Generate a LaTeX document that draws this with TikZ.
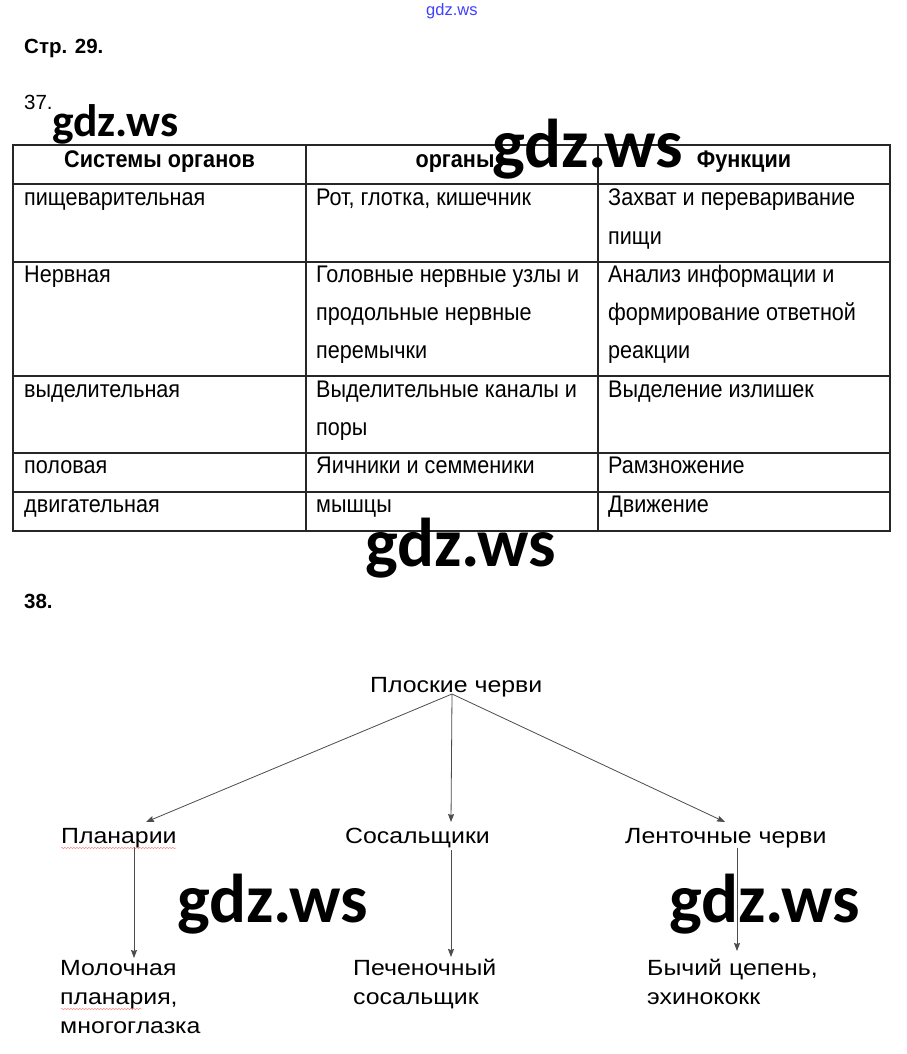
\documentclass[tikz,border=0pt]{standalone}
\usepackage{fontspec}
\setmainfont{Liberation Sans}
\newfontfamily\tabfont[FakeStretch=0.9]{Liberation Sans}
\newfontfamily\diagfont[FakeStretch=1.13]{Liberation Sans}
\newfontfamily\wmfont{Carlito}
\usetikzlibrary{arrows.meta,decorations.pathmorphing}
\begin{document}
\begin{tikzpicture}[x=1pt,y=-1pt,
  tab/.style={inner sep=0pt, anchor=base west, font=\tabfont\fontsize{24}{28}\selectfont},
  tabh/.style={inner sep=0pt, anchor=base, font=\tabfont\bfseries\fontsize{24}{28}\selectfont},
  dg/.style={inner sep=0pt, anchor=base west, font=\diagfont\fontsize{22}{29}\selectfont},
  wm/.style={inner sep=0pt, anchor=base west, font=\wmfont\bfseries\fontsize{69}{72}\selectfont},
  wms/.style={inner sep=0pt, anchor=base west, font=\wmfont\bfseries\fontsize{45.5}{48}\selectfont},
  hd/.style={inner sep=0pt, anchor=base west, font=\fontsize{20.5}{24}\selectfont},
  gridline/.style={draw=black!85, line width=1.1pt},
  arr/.style={draw=black!70, line width=0.8pt, -{Stealth[length=8pt,width=6pt,inset=1pt]}},
  wavy/.style={draw=red!55, line width=0.4pt, decorate, decoration={snake, amplitude=0.7pt, segment length=3pt}}
  ]
\useasboundingbox (0,0) rectangle (906,1054);
\fill[white] (0,0) rectangle (906,1054);

% headings
\node[inner sep=0pt, anchor=base west, text=blue!75, font=\fontsize{16.5}{18}\selectfont] (site) at (426,16) {gdz.ws};
\node[hd, font=\bfseries\fontsize{20.5}{24}\selectfont] (page) at (24,54) {Стр. 29.};
\node[hd] (n37) at (24,110) {37.};
\node[hd, font=\bfseries\fontsize{20.5}{24}\selectfont] (n38) at (24,608) {38.};

% table grid
\draw[gridline] (13,145) rectangle (890,531);
\draw[gridline] (306,145) -- (306,531) (598,145) -- (598,531);
\draw[gridline] (13,184) -- (890,184) (13,262) -- (890,262) (13,376) -- (890,376)
  (13,453) -- (890,453) (13,492) -- (890,492);

% header
\node[tabh] (h1) at (159.5,167) {Системы органов};
\node[tabh] (h2) at (455,167) {органы};
\node[tabh] (h3) at (744,167) {Функции};

% row 1
\node[tab] (r1a) at (24,205) {пищеварительная};
\node[tab] (r1b) at (316,205) {Рот, глотка, кишечник};
\node[tab] (r1c) at (608,205) {Захват и переваривание};
\node[tab] (r1c2) at (608,244) {пищи};
% row 2
\node[tab] (r2a) at (24,282) {Нервная};
\node[tab] (r2b) at (316,282) {Головные нервные узлы и};
\node[tab] (r2b2) at (316,320) {продольные нервные};
\node[tab] (r2b3) at (316,358) {перемычки};
\node[tab] (r2c) at (608,282) {Анализ информации и};
\node[tab] (r2c2) at (608,320) {формирование ответной};
\node[tab] (r2c3) at (608,358) {реакции};
% row 3
\node[tab] (r3a) at (24,397) {выделительная};
\node[tab] (r3b) at (316,397) {Выделительные каналы и};
\node[tab] (r3b2) at (316,435) {поры};
\node[tab] (r3c) at (608,397) {Выделение излишек};
% row 4
\node[tab] (r4a) at (24,473) {половая};
\node[tab] (r4b) at (316,473) {Яичники и семменики};
\node[tab] (r4c) at (608,473) {Рамзножение};
% row 5
\node[tab] (r5a) at (24,512) {двигательная};
\node[tab] (r5b) at (316,512) {мышцы};
\node[tab] (r5c) at (608,512) {Движение};

% diagram
\node[dg] (root) at (370,692) {Плоские черви};
\node[dg] (pla) at (61,843) {Планарии};
\node[dg] (sos) at (345,843) {Сосальщики};
\node[dg] (len) at (625,843) {Ленточные черви};
\node[dg] (mol1) at (60,975) {Молочная};
\node[dg] (mol2) at (60,1004) {планария,};
\node[dg] (mol3) at (60,1033) {многоглазка};
\node[dg] (pec1) at (353,975) {Печеночный};
\node[dg] (pec2) at (353,1004) {сосальщик};
\node[dg] (byc1) at (647,975) {Бычий цепень,};
\node[dg] (byc2) at (647,1004) {эхинококк};

\coordinate (o) at (452,694);
\coordinate (t1) at (146,822);
\coordinate (t2) at (451,822);
\coordinate (t3) at (725,822);
\coordinate (s1) at (134,847);
\coordinate (e1) at (134,958);
\coordinate (s2) at (451,850);
\coordinate (e2) at (451,957);
\coordinate (s3) at (737,848);
\coordinate (e3) at (737,951);

\draw[arr] (o) -- (t1);
\draw[arr] (o) -- (t2);
\draw[arr] (o) -- (t3);
\draw[arr] (s1) -- (e1);
\draw[arr] (s2) -- (e2);
\draw[arr] (s3) -- (e3);

\draw[wavy] (61,848) -- (176,848);
\draw[wavy] (61,1009) -- (142,1009);

% watermarks
\node[wms] (w1) at (52,136) {gdz.ws};
\node[wm] (w2) at (492,167) {gdz.ws};
\node[wm] (w3) at (365,566) {gdz.ws};
\node[wm] (w4) at (177,922) {gdz.ws};
\node[wm] (w5) at (669,922) {gdz.ws};
\end{tikzpicture}
\end{document}
